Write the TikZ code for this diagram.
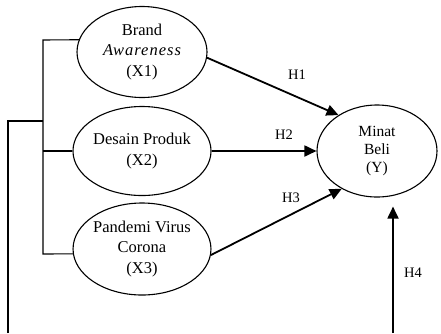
\documentclass[tikz,border=0pt]{standalone}
\usepackage{fontspec}
\setmainfont{Liberation Serif}
\usetikzlibrary{shapes.geometric,arrows.meta}
\begin{document}
\begin{tikzpicture}[x=1pt,y=-1pt,
  var/.style={draw,ellipse,line width=1.1pt,inner sep=0pt,align=center,
    font=\fontsize{16.5}{20.5}\selectfont},
  lnk/.style={line width=1.1pt},
  hyp/.style={line width=1.8pt,-{Triangle[length=12pt,width=11pt]}},
  lab/.style={font=\fontsize{14.5}{16}\selectfont}]
\useasboundingbox (0,0) rectangle (441,333);
\node[var,minimum width=130pt,minimum height=91pt] (x1) at (142,52)
  {Brand\\{\itshape\addfontfeature{LetterSpace=6}Awareness}\\(X1)};
\node[var,minimum width=130pt,minimum height=89pt] (x2) at (142,151)
  {Desain Produk\\(X2)};
\node[var,minimum width=130pt,minimum height=92pt] (x3) at (142,249)
  {Pandemi Virus\\Corona\\(X3)};
\node[var,minimum width=120pt,minimum height=92pt,
  font=\fontsize{15.5}{18}\selectfont] (y) at (377,151) {Minat\\Beli\\(Y)};
% bracket
\coordinate (bt) at (43,40);
\coordinate (bb) at (43,254);
\coordinate (ob) at (8,333);
\coordinate (ot) at (8,121);
\draw[lnk] (x1.169) -- (bt) -- (bb) -- (x3.184);
\draw[lnk] (bt |- x2.west) -- (x2.west);
\draw[lnk] (ob) -- (ot) -- (ot -| bt);
% hypotheses
\draw[hyp] (x1.-5) -- (y.137);
\draw[hyp] (x2.east) -- (y.west);
\draw[hyp] (x3.-5) -- (y.227);
\coordinate (h4b) at (393,333);
\draw[hyp,shorten >=9pt] (h4b) -- (h4b |- y.south);
\node[lab] (h1) at (297,75) {H1};
\node[lab] (h2) at (284,135) {H2};
\node[lab] (h3) at (291,198) {H3};
\node[lab] (h4) at (413,273) {H4};
\end{tikzpicture}
\end{document}
